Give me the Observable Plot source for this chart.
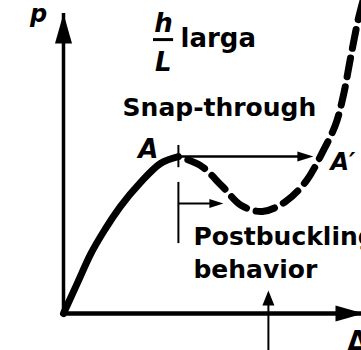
<!DOCTYPE html>
<html>
<head>
<meta charset="utf-8">
<script src="https://cdn.jsdelivr.net/npm/d3@7"></script>
<script src="https://cdn.jsdelivr.net/npm/@observablehq/plot@0.6"></script>
<style>
  html, body { margin: 0; padding: 0; background: #fff; }
  #chart svg { display: block; }
</style>
</head>
<body>
<div id="chart"></div>
<script>
// Stable load–deflection path from the origin up to the limit point A (solid)
const deltaStable = [0, 0.47, 0.9, 1.4, 1.9, 2.57, 3.23, 3.83];
const loadStable  = [0, 1.03, 1.97, 2.83, 3.57, 4.37, 5.0, 5.23];

// Branch beyond the limit point: unloading dip, then stiffening (dashed)
const deltaBranch = [3.83, 4.57, 5.3, 5.93, 6.63, 7.4, 8.1, 8.63, 9.07, 9.33, 9.57, 9.83, 10.03];
const loadBranch  = [5.23, 4.93, 4.23, 3.6, 3.4, 3.73, 4.43, 5.37, 6.3, 7.27, 8.53, 9.83, 10.6];

// Limit point A and the point A' reached by snap-through at the same load
const deltaA = 3.83, loadA = 5.23;
const deltaAprime = 8.33;

// Axis extents and the marked deflection below the Δ axis
const deltaAxisEnd = 10, loadAxisEnd = 10;
const deltaMarked = 6.83;

const stable = deltaStable.map((d, i) => ({delta: d, p: loadStable[i]}));
const branch = deltaBranch.map((d, i) => ({delta: d, p: loadBranch[i]}));

// Filled triangular arrowhead with its tip at the anchor point
function arrowHead(dir, len, half) {
  return {
    draw(ctx) {
      if (dir === "right") {
        ctx.moveTo(0, 0); ctx.lineTo(-len, -half); ctx.lineTo(-len, half); ctx.closePath();
      } else {
        ctx.moveTo(0, 0); ctx.lineTo(-half, len); ctx.lineTo(half, len); ctx.closePath();
      }
    }
  };
}

const head = (x, y, symbol) =>
  Plot.dot([{x, y}], {x: "x", y: "y", r: 5, symbol, fill: "black", stroke: "none"});

const font = "'DejaVu Sans', 'Liberation Sans', sans-serif";
const label = (text, x, y, opts = {}) =>
  Plot.text([{text, x, y}], {
    x: "x", y: "y", text: "text",
    fontFamily: font, fontWeight: "bold", fontSize: 25,
    textAnchor: "start", lineAnchor: "bottom", fill: "black",
    ...opts
  });

const chart = Plot.plot({
  width: 361,
  height: 350,
  margin: 0,
  x: {domain: [0, 10], range: [63, 363], axis: null},
  y: {domain: [0, 10], range: [313, 13], axis: null},
  style: {background: "white", color: "black", overflow: "hidden"},
  marks: [
    // axes
    Plot.ruleX([0], {y1: 0, y2: loadAxisEnd, strokeWidth: 3.5}),
    Plot.ruleY([0], {x1: 0, x2: deltaAxisEnd, strokeWidth: 4.5}),
    head(0, loadAxisEnd, arrowHead("up", 30, 8.5)),
    head(deltaAxisEnd, 0, arrowHead("right", 28, 8)),

    // load path
    Plot.line(stable, {x: "delta", y: "p", strokeWidth: 7, curve: "monotone-x"}),
    Plot.line(branch, {x: "delta", y: "p", strokeWidth: 7, curve: "catmull-rom",
      strokeDasharray: "19,10", strokeDashoffset: 19}),

    // tick marking the limit point
    Plot.ruleX([deltaA], {y1: loadA - 0.37, y2: loadA + 0.37, strokeWidth: 2}),

    // snap-through jump A -> A'
    Plot.ruleY([loadA], {x1: deltaA, x2: deltaAprime - 0.3, strokeWidth: 2.5}),
    head(deltaAprime, loadA, arrowHead("right", 16, 5)),

    // bracket pointing into the postbuckling branch
    Plot.ruleX([deltaA], {y1: 2.33, y2: 4.37, strokeWidth: 2}),
    Plot.ruleY([3.67], {x1: deltaA, x2: 5.0, strokeWidth: 2}),
    head(5.33, 3.67, arrowHead("right", 14, 4.5)),

    // marker under the Δ axis
    Plot.ruleX([deltaMarked], {y1: -1.3, y2: 0.4, strokeWidth: 2}),
    head(deltaMarked, 0.77, arrowHead("up", 15, 6)),

    // labels
    label("p", -0.83, 9.73, {fontStyle: "italic", textAnchor: "middle", fontSize: 24}),
    label("h", 3.33, 9.37, {fontStyle: "italic", textAnchor: "middle", fontSize: 26}),
    Plot.ruleY([9.13], {x1: 3.0, x2: 3.67, strokeWidth: 3}),
    label("L", 3.33, 8.1, {fontStyle: "italic", textAnchor: "middle", fontSize: 26}),
    label("larga", 3.9, 8.87, {fontSize: 26}),
    label("Snap-through", 1.97, 6.6),
    label("A", 2.83, 5.2, {fontStyle: "italic", textAnchor: "middle", fontSize: 26}),
    label("A\u2032", 8.9, 4.77, {fontStyle: "italic", fontSize: 24}),
    label("Postbuckling", 4.33, 2.27),
    label("behavior", 4.33, 1.2),
    label("\u0394", 9.47, -1.23, {fontSize: 26})
  ]
});

document.getElementById("chart").append(chart);
</script>
</body>
</html>
